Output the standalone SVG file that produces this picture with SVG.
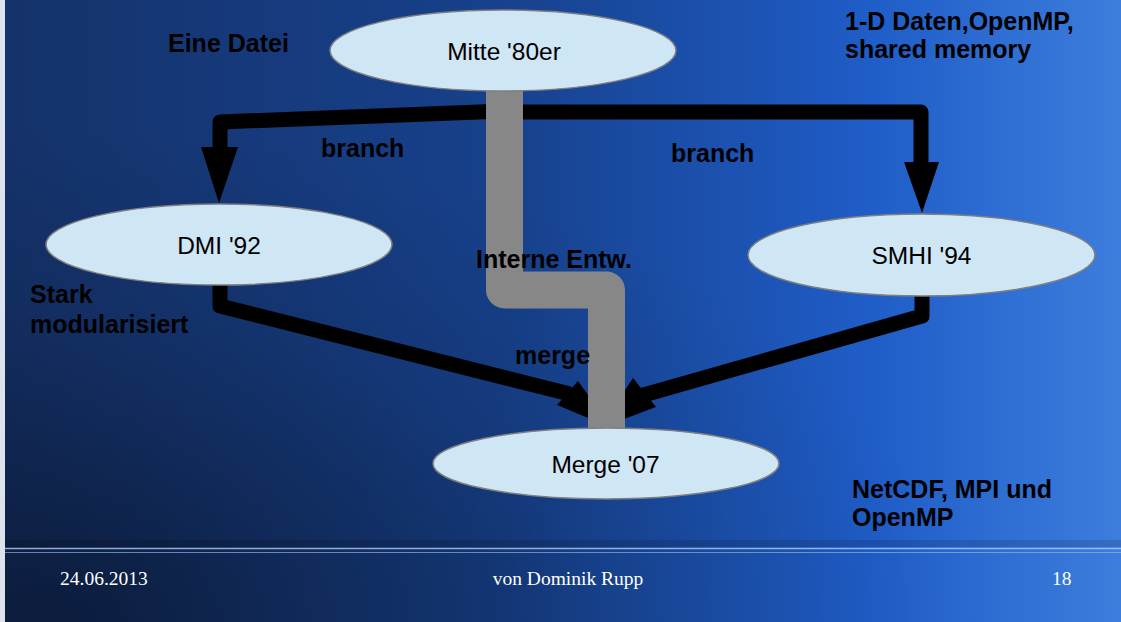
<svg xmlns="http://www.w3.org/2000/svg" width="1121" height="622" viewBox="0 0 1121 622">
<style>
.node{fill:#cfe6f5;stroke:#7f7f7f;stroke-width:1.5}
.nt{font-family:"Liberation Sans",Arial,sans-serif;font-size:24.5px;fill:#000;text-anchor:middle}
.lbl{font-family:"Liberation Sans",Arial,sans-serif;font-size:25px;font-weight:bold;fill:#000}
.ft{font-family:"Liberation Serif","Times New Roman",serif;font-size:19.5px;fill:#fff}
.blk{fill:none;stroke:#000;stroke-width:15;stroke-linejoin:round}
.gray{fill:none;stroke:#878787;stroke-width:37;stroke-linejoin:round}
</style>
<defs>
<linearGradient id="bgH" x1="0" y1="0" x2="1" y2="0">
<stop offset="0" stop-color="#15326a"/>
<stop offset="0.45" stop-color="#17418c"/>
<stop offset="0.78" stop-color="#1f5dc8"/>
<stop offset="1" stop-color="#3d7ddc"/>
</linearGradient>
<radialGradient id="shade" cx="0.05" cy="1" r="0.8" gradientUnits="objectBoundingBox">
<stop offset="0" stop-color="#000" stop-opacity="0.45"/>
<stop offset="0.6" stop-color="#000" stop-opacity="0.12"/>
<stop offset="1" stop-color="#000" stop-opacity="0"/>
</radialGradient>
</defs>
<rect x="0" y="0" width="1121" height="622" fill="url(#bgH)"/>
<rect x="0" y="0" width="1121" height="622" fill="url(#shade)"/>
<rect x="0" y="540" width="1121" height="7" fill="#000" opacity="0.12"/>
<line x1="5" y1="548.5" x2="1121" y2="548.5" stroke="#a9c4ea" stroke-width="1.5" opacity="0.85"/>
<line x1="5" y1="552.5" x2="1121" y2="552.5" stroke="#8fb0e0" stroke-width="1" opacity="0.7"/>
<rect x="0" y="0" width="5" height="622" fill="#dde3ec"/>

<g id="connectors">
<path class="blk" d="M504 111 L220 122 L220 152"/>
<polygon points="201,147 238,147 219,203" fill="#000"/>
<path class="blk" d="M504 112 L921 112 L921 166"/>
<polygon points="904,162 939,162 922,213" fill="#000"/>
<path class="blk" d="M220 285 L220 306 L570 394"/>
<polygon points="578,381 557,405 612,428" fill="#000"/>
<path class="blk" d="M922 296 L922 316 L640 396"/>
<polygon points="633,378 656,407 600,428" fill="#000"/>
<path class="gray" d="M504.5 88 L504.5 290 L606.5 290 L606.5 432"/>
</g>

<g id="node-mitte">
<ellipse class="node" cx="503" cy="50.5" rx="173" ry="40.5"/>
<text class="nt" x="504" y="60">Mitte '80er</text>
</g>
<g id="node-dmi">
<ellipse class="node" cx="219" cy="244.5" rx="173" ry="40.5"/>
<text class="nt" x="219" y="254">DMI '92</text>
</g>
<g id="node-smhi">
<ellipse class="node" cx="921.5" cy="255" rx="173.5" ry="41"/>
<text class="nt" x="921.5" y="264">SMHI '94</text>
</g>
<g id="node-merge">
<ellipse class="node" cx="606" cy="463.5" rx="173" ry="35.5"/>
<text class="nt" x="605.5" y="473">Merge '07</text>
</g>

<g id="labels">
<text class="lbl" x="168" y="52">Eine Datei</text>
<text class="lbl" x="845" y="30">1-D Daten,OpenMP,</text>
<text class="lbl" x="845" y="58">shared memory</text>
<text class="lbl" x="321" y="157">branch</text>
<text class="lbl" x="671" y="162">branch</text>
<text class="lbl" x="476" y="268">Interne Entw.</text>
<text class="lbl" x="30" y="303">Stark</text>
<text class="lbl" x="30" y="333">modularisiert</text>
<text class="lbl" x="515" y="364">merge</text>
<text class="lbl" x="852" y="498">NetCDF, MPI und</text>
<text class="lbl" x="852" y="526">OpenMP</text>
</g>

<g id="footer">
<text class="ft" x="60" y="585">24.06.2013</text>
<text class="ft" x="568" y="585" text-anchor="middle">von Dominik Rupp</text>
<text class="ft" x="1052" y="585">18</text>
</g>
</svg>
